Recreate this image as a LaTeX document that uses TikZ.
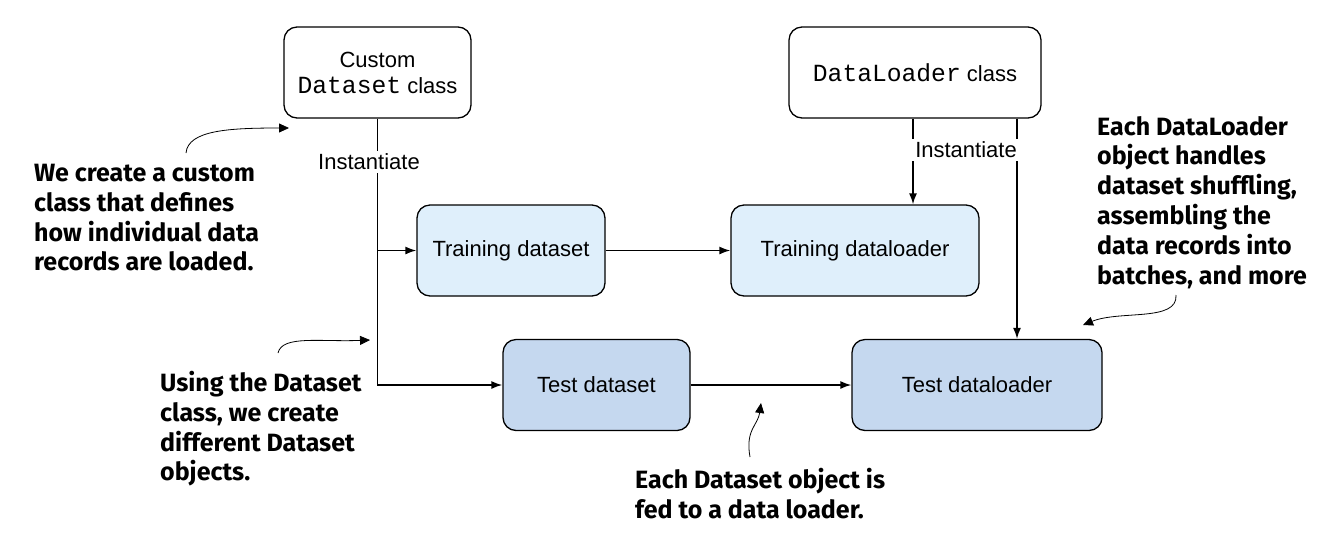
\documentclass[tikz,border=0pt]{standalone}
\usepackage{fontspec}
\setmainfont{Liberation Sans}
\setmonofont[Scale=1.12]{Liberation Mono}
\newfontfamily\notefont{Fira Sans}
\usetikzlibrary{arrows.meta, positioning, calc}

\definecolor{trainblue}{RGB}{223,239,251}
\definecolor{testblue}{RGB}{197,216,239}

\begin{document}
\begin{tikzpicture}[
        x=1pt, y=-1pt,
        font=\fontsize{22}{26}\selectfont,
        classbox/.style={rectangle, rounded corners=13pt, minimum height=91pt, text centered, align=center, draw=black, line width=1.3pt, fill=white},
        trainbox/.style={classbox, fill=trainblue},
        testbox/.style={classbox, fill=testblue},
        arrow/.style={line width=1.6pt, -{Latex[length=11pt, width=8pt]}},
        instlabel/.style={fill=white, inner sep=3pt},
        note/.style={font=\notefont\bfseries\fontsize{25}{29.8}\selectfont, align=left, anchor=north west, inner sep=0pt},
        callout/.style={line width=0.8pt, -{Triangle[length=10pt, width=9pt]}},
    ]
        \useasboundingbox (0,0) rectangle (1337,550);

        % Class boxes
        \node (customcls) [classbox, minimum width=187pt] at (377.5,72.5) {Custom\\\texttt{Dataset} class};
        \node (loadercls) [classbox, minimum width=252pt] at (915,72.5) {\texttt{DataLoader} class};

        % Datasets and loaders
        \node (trainset) [trainbox, minimum width=188pt] at (511,250.5) {Training dataset};
        \node (trainloader) [trainbox, minimum width=248pt] at (855,250.5) {Training dataloader};
        \node (testset) [testbox, minimum width=187pt] at (596.5,385) {Test dataset};
        \node (testloader) [testbox, minimum width=250pt] at (977,385) {Test dataloader};

        % Dataset instantiation
        \draw [arrow] (customcls.south) |- (testset.west);
        \draw [arrow] (customcls.south |- trainset.west) -- (trainset.west);
        \node (instset) [instlabel] at (369,162) {Instantiate};

        % DataLoader instantiation
        \coordinate (loaderA) at ($(loadercls.south)+(-2,0)$);
        \coordinate (loaderB) at ($(loadercls.south)+(102,0)$);
        \draw [arrow] (loaderA) -- (loaderA |- trainloader.north);
        \draw [arrow] (loaderB) -- (loaderB |- testloader.north);
        \node (instloader) [instlabel] at (966,150) {Instantiate};

        % Dataset to loader
        \draw [arrow] (trainset) -- (trainloader);
        \draw [arrow] (testset) -- (testloader);

        % Notes
        \node (noteclass) [note] at (34,164) {We create a custom\\class that defines\\how individual data\\records are loaded.};
        \node (noteobjects) [note] at (160,371) {Using the Dataset\\class, we create\\different Dataset\\objects.};
        \node (notefeed) [note] at (635,468) {Each Dataset object is\\fed to a data loader.};
        \node (noteloader) [note] at (1097,116) {Each DataLoader\\object handles\\dataset shuffling,\\assembling the\\data records into\\batches, and more};

        % Callout arrows
        \coordinate (fromclass) at (186,153);
        \coordinate (toclass) at (289,128);
        \coordinate (fromobjects) at (278,353);
        \coordinate (toobjects) at (370,340);
        \coordinate (fromfeed) at (750,457);
        \coordinate (tofeed) at (761,403);
        \coordinate (fromloader) at (1176,295);
        \coordinate (toloader) at (1083,325);
        \draw [callout] (fromclass) .. controls (188,130) and (230,128) .. (toclass);
        \draw [callout] (fromobjects) .. controls (282,335) and (320,342) .. (toobjects);
        \draw [callout] (fromfeed) .. controls (745,430) and (758,425) .. (tofeed);
        \draw [callout] (fromloader) .. controls (1178,322) and (1120,310) .. (toloader);
\end{tikzpicture}
\end{document}
